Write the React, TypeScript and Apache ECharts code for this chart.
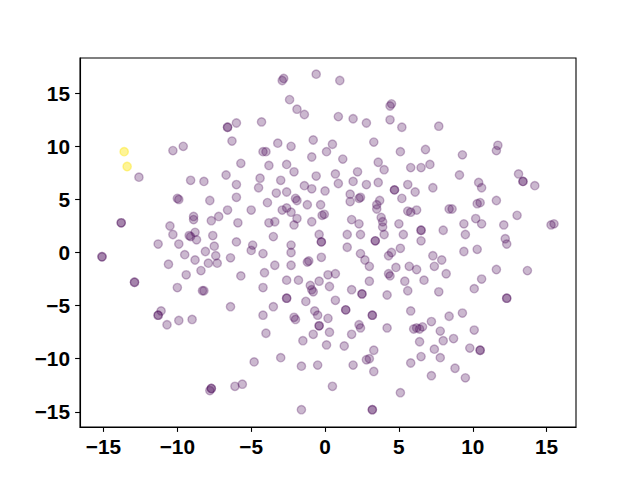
import React, { useEffect, useRef } from "react";
import * as echarts from "echarts";

// tick values shown on both axes
const xTicks = [-15, -10, -5, 0, 5, 10, 15];
const yTicks = [-15, -10, -5, 0, 5, 10, 15];

// highlighted (yellow) points
const yellowPoints: [number, number][] = [
  [-13.6, 9.5],
  [-13.4, 8.1],
];

// regular (purple) points; repeated entries are overlapping points
const purplePoints: [number, number][] = [
  [-12.6, 7.1], [-6.6, 11.8], [-6.6, 11.8], [-6.0, 12.2], [-6.3, 10.5], [-10.3, 9.6],
  [-9.6, 10.0], [-5.7, 8.4], [-9.1, 6.8], [-8.2, 6.7], [-6.7, 7.3], [-6.0, 6.4],
  [-10.0, 5.1], [-9.9, 5.0], [-7.8, 4.9], [-6.0, 5.2], [-6.6, 4.0], [-13.8, 2.8],
  [-13.8, 2.8], [-8.9, 3.4], [-8.9, 3.1], [-7.7, 3.0], [-7.2, 3.4], [-5.9, 2.8],
  [-10.5, 2.5], [-10.3, 1.7], [-9.2, 1.6], [-9.1, 1.5], [-8.8, 1.9], [-8.7, 1.2],
  [-7.6, 1.6], [-6.0, 1.0], [-11.3, 0.8], [-9.9, 0.8], [-7.5, 0.6],
  [-2.8, 16.4], [-2.9, 16.2], [-0.6, 16.8], [1.0, 16.2], [-2.4, 14.4], [-1.9, 13.5],
  [-1.4, 13.0], [-4.3, 12.3], [0.9, 12.8], [1.9, 12.6], [2.8, 12.2], [4.5, 14.0],
  [4.4, 13.8], [4.4, 12.5], [5.2, 11.8], [-0.8, 10.6], [-3.2, 10.3], [-2.3, 10.0],
  [0.5, 10.2], [0.1, 9.5], [3.3, 10.4], [-4.2, 9.5], [-4.0, 9.5], [-0.9, 9.0],
  [1.2, 8.8], [5.1, 9.5], [-3.8, 8.2], [-2.6, 8.3], [-2.1, 7.6], [3.6, 8.5],
  [4.0, 7.8], [5.8, 8.0], [-4.4, 7.0], [-4.5, 6.1], [-3.0, 6.8], [-0.6, 7.2],
  [0.7, 7.4], [2.2, 7.6], [-1.4, 6.3], [-0.9, 6.0], [0.9, 6.5], [1.9, 6.7],
  [2.8, 6.4], [3.6, 6.6], [4.7, 5.9], [4.7, 5.9], [5.6, 6.4], [-3.3, 5.6],
  [-2.6, 5.7], [0.0, 5.8], [1.7, 5.5], [-2.0, 5.1], [-1.9, 4.9], [-3.9, 4.7],
  [-5.0, 4.0], [-2.9, 4.0], [-2.6, 4.2], [-2.3, 3.8], [-1.2, 4.5], [-0.3, 4.5],
  [1.7, 4.8], [2.3, 5.1], [2.4, 5.2], [3.7, 4.9], [3.5, 4.5], [3.5, 4.1],
  [5.2, 5.1], [5.6, 3.9], [5.8, 3.8], [-0.2, 3.5], [-0.05, 3.6], [-1.9, 3.2],
  [-0.9, 2.9], [1.8, 3.1], [2.3, 2.7], [3.8, 3.3], [3.9, 2.9], [3.9, 2.4],
  [4.0, 1.7], [5.0, 2.7], [-3.8, 2.8], [-3.4, 2.9], [-2.1, 2.6], [-3.5, 1.5],
  [-0.4, 1.7], [-0.25, 1.0], [-0.25, 1.0], [1.5, 1.7], [2.4, 1.7], [3.4, 1.1],
  [3.4, 1.1], [5.3, 1.7], [-4.9, 0.7], [-2.3, 0.7], [1.5, 0.5],
  [7.7, 11.9], [6.8, 9.7], [9.3, 9.2], [11.7, 10.1], [11.6, 9.6], [6.5, 8.0],
  [7.1, 8.3], [9.1, 7.3], [13.1, 7.4], [13.4, 6.7], [13.4, 6.7], [14.2, 6.3],
  [6.1, 5.7], [7.3, 6.1], [10.4, 6.6], [10.6, 6.1], [10.3, 4.6], [10.5, 4.7],
  [11.6, 4.9], [6.2, 4.0], [8.4, 4.1], [8.6, 4.1], [10.2, 3.2], [13.0, 3.5],
  [6.5, 2.1], [6.5, 2.1], [8.0, 2.1], [9.4, 2.7], [10.6, 2.7], [12.1, 2.6],
  [15.3, 2.6], [15.5, 2.7], [9.5, 1.7], [6.5, 1.1], [12.2, 1.3], [12.3, 0.8],
  [-5.0, 0.2], [-15.1, -0.4], [-15.1, -0.4], [-9.5, -0.2], [-8.1, 0.1], [-7.4, -0.3],
  [-6.4, -0.5], [-10.6, -1.1], [-8.8, -0.7], [-7.9, -1.0], [-7.3, -1.0], [-8.4, -1.7],
  [-9.4, -2.1], [-5.7, -2.2], [-12.9, -2.8], [-12.9, -2.8], [-10.0, -3.3], [-8.3, -3.6],
  [-8.2, -3.6], [-6.4, -5.1], [-11.1, -5.5], [-11.3, -5.9], [-11.3, -5.9], [-10.7, -6.8],
  [-9.9, -6.4], [-9.0, -6.3], [-7.7, -12.8], [-7.7, -12.8], [-7.8, -13.0], [-6.1, -12.6],
  [-5.6, -12.4],
  [-2.3, 0.0], [2.4, -0.1], [5.1, 0.4], [4.3, -0.3], [4.5, 0.0], [-4.2, -0.1],
  [-3.4, -1.2], [-2.3, -1.2], [-1.1, -0.8], [-1.2, -0.9], [-0.25, -0.45], [2.7, -0.7],
  [3.0, -1.3], [4.3, -2.0], [4.4, -2.2], [4.8, -1.4], [5.7, -1.3], [-4.1, -1.9],
  [-2.6, -2.6], [-1.8, -2.6], [0.2, -2.1], [0.7, -2.0], [-1.0, -3.1], [-0.9, -3.5],
  [-0.8, -3.7], [-0.4, -2.7], [0.3, -3.2], [1.8, -3.5], [2.5, -3.9], [2.5, -3.9],
  [3.0, -2.7], [5.4, -2.7], [5.6, -3.6], [4.2, -4.0], [-4.2, -3.3], [-2.6, -4.3],
  [-2.6, -4.3], [-1.3, -4.6], [0.7, -4.5], [-3.5, -5.1], [-4.2, -5.9], [-2.1, -6.1],
  [-2.0, -6.3], [-0.7, -5.5], [-0.5, -5.9], [0.2, -6.2], [1.4, -5.4], [1.4, -5.4],
  [3.2, -5.9], [3.2, -5.9], [5.8, -5.5], [-0.4, -6.9], [-0.4, -6.9], [-4.0, -7.6],
  [-0.8, -7.7], [0.3, -7.5], [2.3, -6.8], [2.4, -7.1], [1.8, -7.7], [4.2, -7.1],
  [6.0, -7.2], [-1.5, -8.3], [0.1, -8.7], [1.3, -8.8], [3.3, -9.2], [2.8, -10.1],
  [3.0, -10.0], [-4.8, -10.3], [-3.0, -9.9], [-1.6, -10.7], [-0.5, -10.6], [1.9, -10.6],
  [3.3, -11.2], [5.8, -10.4], [0.5, -12.6], [5.1, -13.2], [-1.6, -14.8], [3.2, -14.8],
  [3.2, -14.8],
  [7.3, -0.3], [7.9, -0.7], [7.4, -1.3], [6.2, -1.6], [8.2, -2.0], [9.4, 0.1],
  [10.3, 0.3], [11.6, -1.6], [13.7, -1.7], [6.7, -2.6], [10.6, -2.5], [10.1, -3.4],
  [7.7, -3.7], [12.3, -4.3], [12.3, -4.3], [8.4, -6.0], [9.3, -5.7], [7.2, -6.5],
  [6.2, -7.1], [6.4, -7.2], [6.6, -7.0], [7.8, -7.4], [10.1, -7.3], [6.4, -8.4],
  [8.0, -8.3], [8.7, -8.1], [7.4, -9.1], [9.8, -9.0], [10.5, -9.2], [10.5, -9.2],
  [6.5, -9.8], [7.8, -9.9], [8.8, -10.9], [7.2, -11.6], [9.5, -11.8],
];

const PURPLE = "rgba(68,1,84,0.35)";
const YELLOW = "rgba(253,231,37,0.6)";

export default function App() {
  const ref = useRef<HTMLDivElement>(null);

  useEffect(() => {
    if (!ref.current) return;
    const chart = echarts.init(ref.current, undefined, { renderer: "svg" });
    const fmt = (v: number) => String(v).replace("-", "\u2212");
    const labelStyle = {
      color: "#000",
      fontSize: 20.8,
      fontWeight: "bold" as const,
      fontFamily: "Liberation Sans, Arial, sans-serif",
      formatter: fmt,
    };
    chart.setOption({
      animation: false,
      backgroundColor: "#fff",
      grid: {
        left: 80,
        right: 64,
        top: 58,
        bottom: 53,
        show: true,
        borderColor: "#000",
        borderWidth: 1.1,
        outerBoundsMode: "none",
      },
      xAxis: {
        type: "value",
        min: -16.59,
        max: 16.99,
        splitLine: { show: false },
        axisLine: { show: true, onZero: false, lineStyle: { color: "#000", width: 1.1 } },
        axisTick: {
          show: true,
          length: 4.9,
          lineStyle: { color: "#000", width: 1.1 },
          customValues: xTicks,
        },
        axisLabel: { ...labelStyle, margin: 9, customValues: xTicks },
      },
      yAxis: {
        type: "value",
        min: -16.43,
        max: 18.32,
        splitLine: { show: false },
        axisLine: { show: true, onZero: false, lineStyle: { color: "#000", width: 1.1 } },
        axisTick: {
          show: true,
          length: 4.9,
          lineStyle: { color: "#000", width: 1.1 },
          customValues: yTicks,
        },
        axisLabel: { ...labelStyle, margin: 10, customValues: yTicks },
      },
      series: [
        {
          type: "scatter",
          data: purplePoints,
          symbolSize: 8.33,
          itemStyle: { color: PURPLE, borderColor: PURPLE, borderWidth: 1.39 },
          emphasis: { disabled: true },
        },
        {
          type: "scatter",
          data: yellowPoints,
          symbolSize: 8.33,
          itemStyle: { color: YELLOW, borderColor: YELLOW, borderWidth: 1.39 },
          emphasis: { disabled: true },
        },
      ],
    });
    return () => chart.dispose();
  }, []);

  return (
    <div
      ref={ref}
      style={{ position: "fixed", left: 0, top: 0, width: 640, height: 480 }}
    />
  );
}
